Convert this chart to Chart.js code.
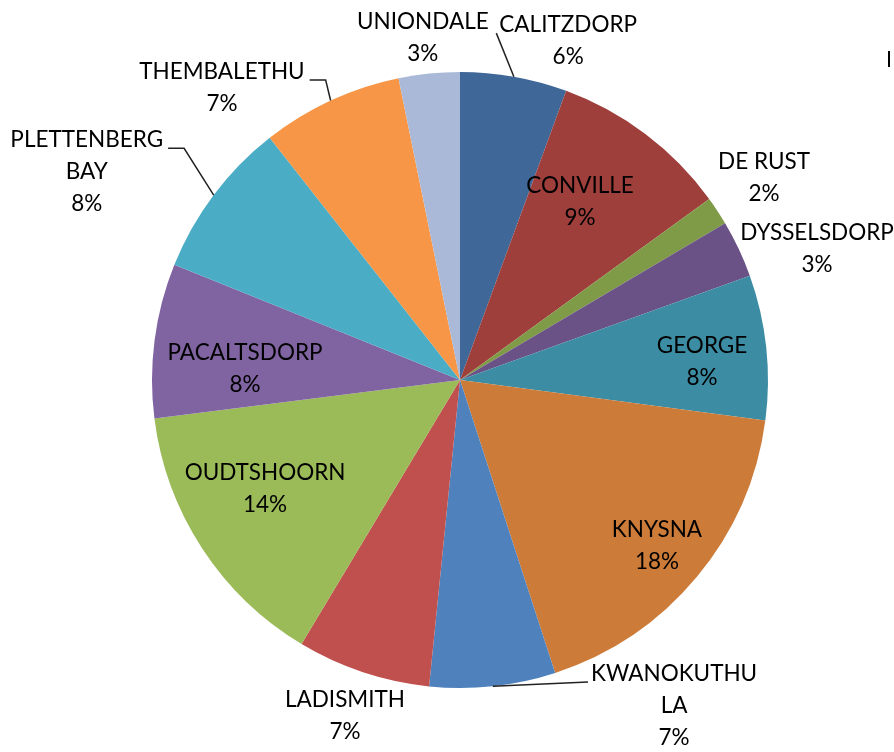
<!DOCTYPE html>
<html>
<head>
<meta charset="utf-8">
<script src="https://cdn.jsdelivr.net/npm/chart.js@4"></script>
<style>
html,body{margin:0;padding:0;background:#fff;}
#wrap{width:894px;height:752px;position:relative;}
</style>
</head>
<body>
<div id="wrap"><canvas id="c" width="894" height="752"></canvas></div>
<script>
// ---- data ----
const categories = ["CALITZDORP","CONVILLE","DE RUST","DYSSELSDORP","GEORGE","KNYSNA","KWANOKUTHULA","LADISMITH","OUDTSHOORN","PACALTSDORP","PLETTENBERG BAY","THEMBALETHU","UNIONDALE"];
const shares = [5.6, 9.4, 1.5, 3.0, 7.6, 17.9, 6.6, 7.0, 14.4, 8.1, 8.3, 7.4, 3.2];
const labelLines = [["CALITZDORP"],["CONVILLE"],["DE RUST"],["DYSSELSDORP"],["GEORGE"],["KNYSNA"],["KWANOKUTHU","LA"],["LADISMITH"],["OUDTSHOORN"],["PACALTSDORP"],["PLETTENBERG","BAY"],["THEMBALETHU"],["UNIONDALE"]];

// ---- styles ----
const colors = ["#3F6797","#9E3F3C","#7F9B48","#6A5186","#3C8DA4","#CC7B39","#4F81BD","#C0504D","#9BBB59","#8064A2","#4BACC6","#F79646","#A9B9D7"];
// label placement: [distance as fraction of radius, angle in degrees clockwise from top], leader line flag
const labelPlace = [[1.155,17.7,1],[0.697,34.0,0],[1.185,56.4,0],[1.235,69.8,0],[0.788,85.7,0],[0.836,130.1,0],[1.266,146.7,1],[1.153,198.9,0],[0.725,240.8,0],[0.699,272.9,0],[1.387,299.1,1],[1.223,320.8,1],[1.117,353.8,0]];
const FONT = '22.5px Lato, "Open Sans", sans-serif';
const LINE_H = 32;

const labelPlugin = {
  id: 'pieLabels',
  afterDatasetsDraw(chart) {
    const ctx = chart.ctx;
    const meta = chart.getDatasetMeta(0);
    const total = shares.reduce((a,b)=>a+b,0);
    ctx.save();
    ctx.font = FONT;
    ctx.fillStyle = '#000';
    ctx.textAlign = 'center';
    ctx.textBaseline = 'middle';
    meta.data.forEach((arc, i) => {
      const p = arc.getProps(['x','y','startAngle','endAngle','outerRadius'], true);
      const R = p.outerRadius;
      const [k, deg, leader] = labelPlace[i];
      const a = deg * Math.PI / 180;
      const cx = p.x + Math.sin(a) * R * k;
      const cy = p.y - Math.cos(a) * R * k;
      const lines = labelLines[i].concat([Math.round(shares[i] / total * 100) + '%']);
      const top = cy - (lines.length - 1) * LINE_H / 2;
      lines.forEach((t, j) => ctx.fillText(t, cx, top + j * LINE_H));
      if (leader) {
        const mid = (p.startAngle + p.endAngle) / 2;
        const ex = p.x + Math.cos(mid) * R;
        const ey = p.y + Math.sin(mid) * R;
        const w = ctx.measureText(lines[0]).width;
        const by = top + 8;
        ctx.beginPath();
        ctx.strokeStyle = '#222';
        ctx.lineWidth = 1.5;
        if (cx > p.x) {
          const ax = cx - w / 2 - 3;
          ctx.moveTo(ex, ey);
          ctx.lineTo(ax, by);
        } else {
          const ax = cx + w / 2 + 5;
          ctx.moveTo(ex, ey);
          ctx.lineTo(ax + 16, by);
          ctx.lineTo(ax, by);
        }
        ctx.stroke();
      }
    });
    // clipped legend edge at the right border
    ctx.fillStyle = '#000';
    ctx.fillRect(chart.width - 6, 51, 2, 16);
    ctx.restore();
  }
};

new Chart(document.getElementById('c'), {
  type: 'pie',
  data: {
    labels: categories,
    datasets: [{ data: shares, backgroundColor: colors, borderWidth: 0 }]
  },
  options: {
    responsive: false,
    animation: false,
    layout: { padding: { left: 152, right: 126, top: 72, bottom: 64 } },
    plugins: { legend: { display: false }, tooltip: { enabled: false } }
  },
  plugins: [labelPlugin]
});
</script>
</body>
</html>
